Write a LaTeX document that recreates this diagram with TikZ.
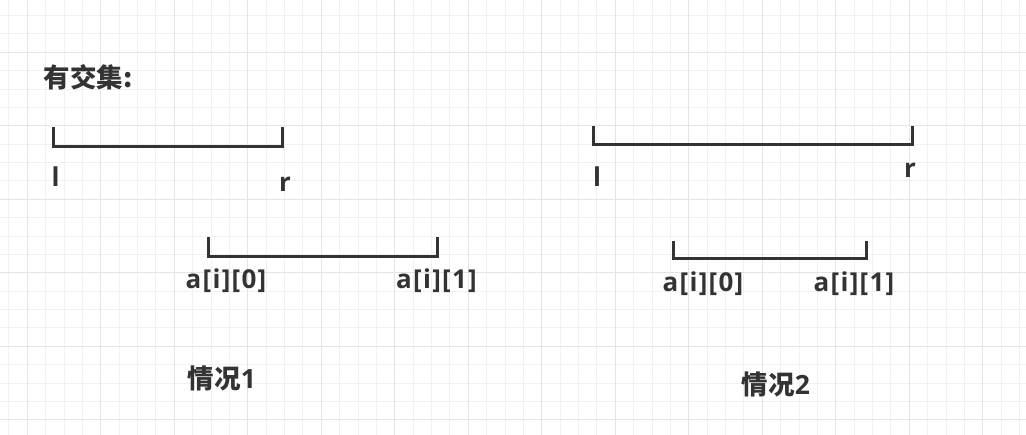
\documentclass[tikz,border=0pt]{standalone}
\usepackage{fontspec}
\setmainfont{Open Sans}[LetterSpace=5]
\newfontfamily\cjk{Noto Sans CJK SC}
\definecolor{ink}{HTML}{333333}
\definecolor{gridminor}{HTML}{F1F1F1}
\definecolor{gridmajor}{HTML}{E4E4E4}
\begin{document}
\begin{tikzpicture}[x=1pt,y=-1pt,
  bar/.style={draw=ink, line width=3pt},
  lbl/.style={text=ink, inner sep=0pt, font=\fontsize{26}{26}\selectfont\bfseries},
  zh/.style={text=ink, inner sep=0pt, font=\fontsize{26.5}{26.5}\selectfont\bfseries}]
\pgfmathsetmacro\minor{18.375}
\pgfmathsetmacro\major{4*\minor}
\useasboundingbox (0,0) rectangle (1026,435);
\fill[white] (0,0) rectangle (1026,435);
% grid
\foreach \k in {0,...,55} \draw[gridminor, line width=1pt] ({8.9+\minor*\k},0) -- ({8.9+\minor*\k},435);
\foreach \k in {0,...,22} \draw[gridminor, line width=1pt] (0,{15.55+\minor*\k}) -- (1026,{15.55+\minor*\k});
\foreach \k in {0,...,13} \draw[gridmajor, line width=1pt] ({27.3+\major*\k},0) -- ({27.3+\major*\k},435);
\foreach \k in {0,...,5} \draw[gridmajor, line width=1pt] (0,{52.3+\major*\k}) -- (1026,{52.3+\major*\k});
\node[zh] (title) at (88,77) {\cjk 有交集:};
% case 1
\coordinate (l1) at (53.3,146.6);
\coordinate (r1) at (282.7,146.6);
\draw[bar] (53.3,126.7) -- (l1) -- (r1) -- (282.7,126.7);
\node[lbl] (lone) at (55.5,177) {l};
\node[lbl] (rone) at (285,184) {r};
\coordinate (s1) at (208.3,256.7);
\coordinate (e1) at (437.3,256.7);
\draw[bar] (208.3,237.3) -- (s1) -- (e1) -- (437.3,237.3);
\node[lbl] (aone) at (226,281) {a[i][0]};
\node[lbl] (bone) at (436.5,281) {a[i][1]};
\node[zh] (caseone) at (222,378) {{\cjk 情况}1};
% case 2
\coordinate (l2) at (593.3,145);
\coordinate (r2) at (912.7,145);
\draw[bar] (593.3,126) -- (l2) -- (r2) -- (912.7,126);
\node[lbl] (ltwo) at (597,177) {l};
\node[lbl] (rtwo) at (910,170) {r};
\coordinate (s2) at (673.3,258.3);
\coordinate (e2) at (866,258.3);
\draw[bar] (673.3,240.7) -- (s2) -- (e2) -- (866,240.7);
\node[lbl] (atwo) at (703,284) {a[i][0]};
\node[lbl] (btwo) at (854,284) {a[i][1]};
\node[zh] (casetwo) at (776,384) {{\cjk 情况}2};
\end{tikzpicture}
\end{document}
